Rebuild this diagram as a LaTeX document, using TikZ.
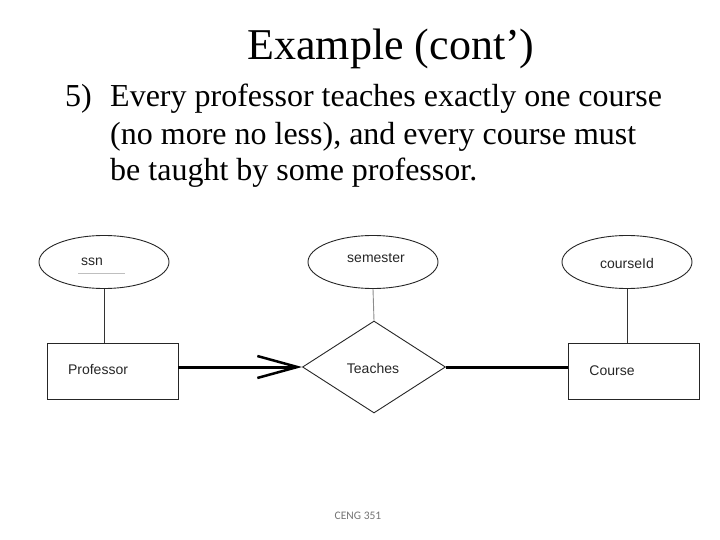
\documentclass[tikz,border=0pt]{standalone}
\usepackage{fontspec}
\setmainfont{Liberation Serif}
\newfontfamily\diagfont{Liberation Sans}
\newfontfamily\footfont{Carlito}
\usetikzlibrary{shapes.geometric,arrows.meta}
\tikzset{
  attr/.style={draw=black!85, line width=0.9pt, ellipse, minimum width=130pt, minimum height=53pt, inner sep=0pt},
  entity/.style={draw=black!85, line width=0.9pt, rectangle, minimum width=131pt, minimum height=56pt, inner sep=0pt},
  rel/.style={draw=black!85, line width=0.9pt, diamond, minimum width=143pt, minimum height=92pt, inner sep=0pt},
  lbl/.style={font=\diagfont\fontsize{14}{16}\selectfont, text=black!85, inner sep=0pt},
  thin link/.style={draw=black!80, line width=0.9pt},
  thick link/.style={draw=black, line width=3pt},
  bodytext/.style={font=\fontsize{32}{36}\selectfont, anchor=base west, inner sep=0pt}
}
\begin{document}
\begin{tikzpicture}[x=1pt,y=-1pt]
\useasboundingbox (0,0) rectangle (720,540);
% title and text
\node[font=\fontsize{44}{48}\selectfont, anchor=base, inner sep=0pt] (title) at (391,60) {Example (cont’)};
\node[bodytext] (num) at (65,107) {5)};
\node[bodytext] (l1) at (110,107) {Every professor teaches exactly one course};
\node[bodytext] (l2) at (110,145) {(no more no less), and every course must};
\node[bodytext] (l3) at (110,181) {be taught by some professor.};
% attributes
\node[attr] (ssn) at (104,262) {};
\node[lbl] (ssnt) at (92,262) {ssn};
\draw[black!25, line width=0.6pt] (78,273) coordinate (u1) -- (125,273) coordinate (u2);
\node[attr] (sem) at (373,262) {};
\node[lbl] (semt) at (376,258) {semester};
\node[attr] (cid) at (627,262) {};
\node[lbl] (cidt) at (627,263) {courseId};
% entities and relationship
\node[entity] (prof) at (112.5,371) {};
\node[lbl] (proft) at (98,370) {Professor};
\node[rel] (teach) at (374,367) {};
\node[lbl] (teacht) at (373,368) {Teaches};
\node[entity] (course) at (634,371) {};
\node[lbl] (courset) at (612,371) {Course};
% connectors
\draw[thin link] (ssn.south) -- (ssn.south |- prof.north);
\draw[thin link, draw=black!45] (sem.south) -- (teach.north);
\draw[thin link] (cid.south) -- (cid.south |- course.north);
\draw[thick link, -{Straight Barb[length=40pt,width=22pt,line width=2.5pt]}] (prof.east |- teach.west) -- (teach.west);
\draw[thick link] (teach.east) -- (course.west |- teach.east);
% footer
\node[font=\footfont\fontsize{11.5}{13}\selectfont, text=black!55, inner sep=0pt] (foot) at (358,516) {CENG 351};
\end{tikzpicture}
\end{document}
